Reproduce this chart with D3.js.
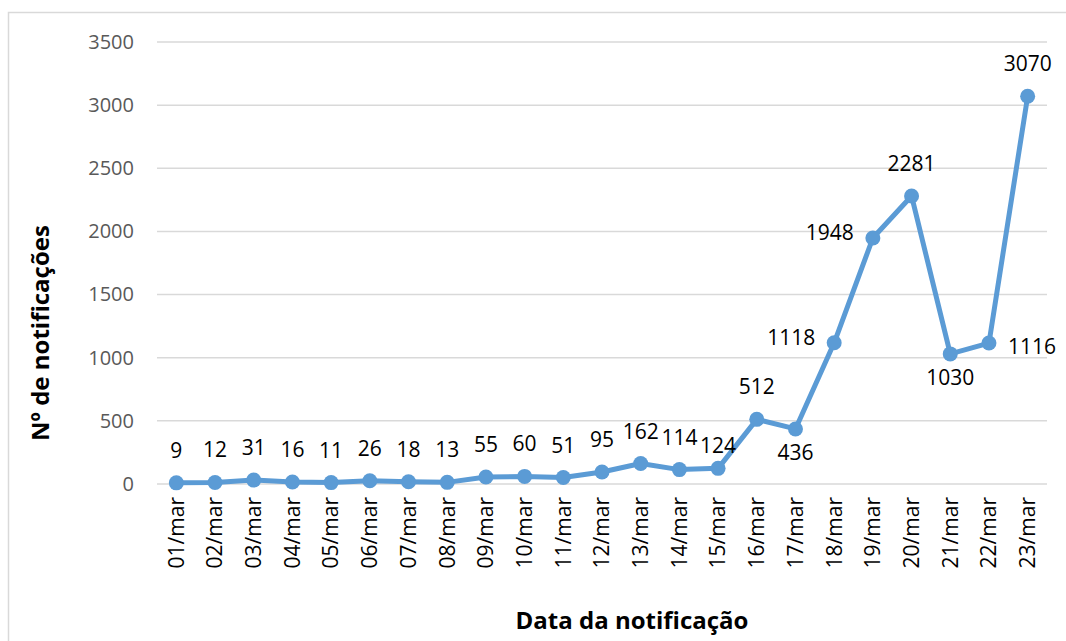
<!DOCTYPE html>
<html>
<head>
<meta charset="utf-8">
<script src="https://cdnjs.cloudflare.com/ajax/libs/d3/7.8.5/d3.min.js"></script>
<style>
  body { margin: 0; background: #fff; }
  svg { display: block; }
</style>
</head>
<body>
<svg id="chart"></svg>
<script>
// chart data
var dates = ["01/mar", "02/mar", "03/mar", "04/mar", "05/mar", "06/mar", "07/mar", "08/mar",
             "09/mar", "10/mar", "11/mar", "12/mar", "13/mar", "14/mar", "15/mar", "16/mar",
             "17/mar", "18/mar", "19/mar", "20/mar", "21/mar", "22/mar", "23/mar"];
var counts = [9, 12, 31, 16, 11, 26, 18, 13, 55, 60, 51, 95, 162, 114, 124, 512,
              436, 1118, 1948, 2281, 1030, 1116, 3070];
// where each data label sits relative to its point (t, tl = top but nearer, b, l, r)
var labelPos = ["t", "t", "t", "t", "t", "t", "t", "t", "t", "t", "t", "t", "t", "t", "tl", "t",
                "b", "l", "l", "t", "b", "r", "t"];
var yTicks = [0, 500, 1000, 1500, 2000, 2500, 3000, 3500];

var width = 1066, height = 641;
// plot area (note: "top" is taken by window.top, so use plot* names)
var plotLeft = 157, plotRight = 1047, plotTop = 42, plotBottom = 484;

var svg = d3.select("#chart").attr("width", width).attr("height", height);

// chart border
svg.append("rect")
  .attr("x", 8.5).attr("y", 12.5)
  .attr("width", 1070).attr("height", 640)
  .attr("fill", "none").attr("stroke", "#d9d9d9").attr("stroke-width", 1.5);

var x = d3.scaleBand().domain(dates).range([plotLeft, plotRight]);
var y = d3.scaleLinear().domain([0, 3500]).range([plotBottom, plotTop]);

// gridlines
svg.append("g")
  .selectAll("line")
  .data(yTicks)
  .enter().append("line")
    .attr("x1", plotLeft).attr("x2", plotRight)
    .attr("y1", function(d) { return y(d); })
    .attr("y2", function(d) { return y(d); })
    .attr("stroke", "#d9d9d9").attr("stroke-width", 1.5);

// y axis labels
var yAxis = svg.append("g")
  .attr("transform", "translate(" + (plotLeft - 23) + ",0)")
  .call(d3.axisLeft(y).tickValues(yTicks).tickFormat(d3.format("d")).tickSize(0).tickPadding(0));
yAxis.select(".domain").remove();
yAxis.selectAll("text")
  .attr("font-family", "Open Sans, sans-serif")
  .attr("font-size", "20px")
  .attr("fill", "#595959");

// x axis labels, rotated
var xAxis = svg.append("g")
  .attr("transform", "translate(0," + (plotBottom + 13) + ")")
  .call(d3.axisBottom(x).tickSize(0).tickPadding(0));
xAxis.select(".domain").remove();
xAxis.selectAll("text")
  .attr("font-family", "Open Sans, sans-serif")
  .attr("font-size", "21px")
  .attr("fill", "#000")
  .attr("transform", "rotate(-90)")
  .attr("text-anchor", "end")
  .attr("x", 0)
  .attr("y", 0)
  .attr("dy", "0.35em");

function cx(d, i) { return x(dates[i]) + x.bandwidth() / 2; }

// line
var line = d3.line()
  .x(function(d, i) { return cx(d, i); })
  .y(function(d) { return y(d); });

svg.append("path")
  .datum(counts)
  .attr("d", line)
  .attr("fill", "none")
  .attr("stroke", "#5b9bd5")
  .attr("stroke-width", 5)
  .attr("stroke-linejoin", "round");

svg.append("g")
  .selectAll("circle")
  .data(counts)
  .enter().append("circle")
    .attr("cx", cx)
    .attr("cy", function(d) { return y(d); })
    .attr("r", 7.5)
    .attr("fill", "#5b9bd5");

// data labels
svg.append("g")
  .selectAll("text")
  .data(counts)
  .enter().append("text")
    .attr("font-family", "Open Sans, sans-serif")
    .attr("font-size", "21px")
    .attr("fill", "#000")
    .attr("x", function(d, i) {
      var p = labelPos[i];
      if (p == "l") return cx(d, i) - 19;
      if (p == "r") return cx(d, i) + 19;
      return cx(d, i);
    })
    .attr("y", function(d, i) {
      var p = labelPos[i];
      if (p == "t") return y(d) - 25;
      if (p == "tl") return y(d) - 15;
      if (p == "b") return y(d) + 31;
      if (p == "r") return y(d) + 11;
      return y(d) + 2;
    })
    .attr("text-anchor", function(d, i) {
      var p = labelPos[i];
      return p == "l" ? "end" : (p == "r" ? "start" : "middle");
    })
    .text(function(d) { return d; });

// axis titles
svg.append("text")
  .attr("transform", "translate(49,333) rotate(-90)")
  .attr("text-anchor", "middle")
  .attr("font-family", "Open Sans, sans-serif")
  .attr("font-size", "24px")
  .attr("font-weight", "bold")
  .text("Nº de notificações");

svg.append("text")
  .attr("x", 632).attr("y", 629)
  .attr("text-anchor", "middle")
  .attr("font-family", "Open Sans, sans-serif")
  .attr("font-size", "24px")
  .attr("font-weight", "bold")
  .text("Data da notificação");
</script>
</body>
</html>
